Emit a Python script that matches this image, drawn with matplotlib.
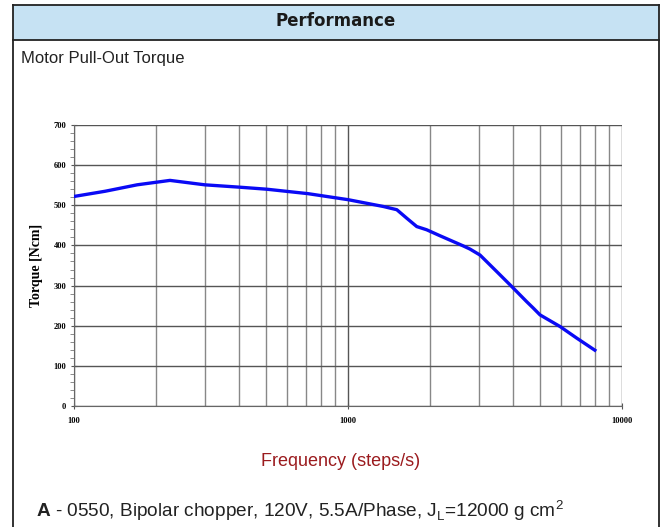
import matplotlib.pyplot as plt
from matplotlib.patches import Rectangle
from matplotlib.lines import Line2D
from matplotlib.ticker import MultipleLocator, NullFormatter

plt.rcParams['mathtext.fontset'] = 'custom'
plt.rcParams['mathtext.rm'] = 'Liberation Sans'
plt.rcParams['mathtext.bf'] = 'Liberation Sans:bold'

# pull-out torque curve
freq = [100, 130, 170, 224, 300, 404, 506, 714, 1000, 1346, 1507, 1637, 1782,
        1937, 2168, 2630, 2786, 3033, 3488, 3954, 4487, 4743, 5020, 5940, 6840, 7960]
torque = [522, 535, 551, 562, 551, 545, 540, 529, 514, 497, 489, 468, 447,
          439, 424, 399, 391, 376, 335, 298, 260, 244, 227, 198, 169, 139]

x_ticks = [100, 1000, 10000]
x_tick_labels = ["100", "1000", "10000"]
y_ticks = [0, 100, 200, 300, 400, 500, 600, 700]

W, H = 663, 527
fig = plt.figure(figsize=(W / 100, H / 100), dpi=100)

def fx(px):
    return px / W

def fy(py):
    return 1 - py / H

# page frame and header band
fig.patches.append(Rectangle((fx(13), fy(40)), fx(659) - fx(13), fy(5) - fy(40),
                             transform=fig.transFigure, facecolor="#c6e2f3",
                             edgecolor="none", zorder=0))
for xs, ys in [([13, 659], [5, 5]), ([13, 659], [40, 40]),
               ([13, 13], [5, 527]), ([659, 659], [5, 527])]:
    fig.lines.append(Line2D([fx(x) for x in xs], [fy(y) for y in ys],
                            transform=fig.transFigure, color="#222222", lw=1.3))

fig.text(fx(336), fy(21), "Performance", ha="center", va="center",
         fontsize=12, fontweight="bold", family="DejaVu Sans", color="#1a1a1a")
fig.text(fx(21), fy(58), "Motor Pull-Out Torque", ha="left", va="center",
         fontsize=12, family="Liberation Sans", color="#222222")

ax = fig.add_axes([fx(74), fy(406), fx(622) - fx(74), fy(125) - fy(406)])
ax.plot(freq, torque, color="#0a0af5", lw=2.4, zorder=3)
ax.set_xscale("log")
ax.set_xlim(100, 10000)
ax.set_ylim(0, 700)

ax.set_xticks(x_ticks)
ax.set_xticklabels(x_tick_labels)
ax.xaxis.set_minor_formatter(NullFormatter())
ax.set_yticks(y_ticks)
ax.yaxis.set_minor_locator(MultipleLocator(20))

ax.grid(True, which="major", axis="both", color="#555555", lw=1.0)
ax.grid(True, which="minor", axis="x", color="#888888", lw=1.0)

for side in ["top", "right"]:
    ax.spines[side].set_visible(False)
ax.spines["left"].set_color("#666666")
ax.spines["bottom"].set_color("#666666")

ax.tick_params(axis="both", which="major", labelsize=6, length=4, direction="inout",
               color="#555555")
ax.tick_params(axis="y", which="minor", length=3, direction="out", color="#777777")
ax.tick_params(axis="x", which="minor", length=0)
ax.tick_params(axis="x", which="major", pad=6)
for lab in ax.get_xticklabels() + ax.get_yticklabels():
    lab.set_family("Liberation Serif")
    lab.set_fontweight("bold")

ax.set_ylabel("Torque [Ncm]", family="Liberation Serif", fontweight="bold",
              fontsize=10)
ax.yaxis.set_label_coords(-0.057, 0.5)

fig.text(fx(341), fy(462), "Frequency (steps/s)", ha="center", va="center",
         fontsize=13, family="Liberation Sans", color="#9b1b1e")

fig.text(fx(36), fy(511), r"$\bf{A}$ - 0550, Bipolar chopper, 120V, 5.5A/Phase, J$_\mathrm{L}$=12000 g cm$^2$",
         ha="left", va="center", fontsize=13.7, family="Liberation Sans", color="#222222")

fig.savefig("out.png", dpi=100)
